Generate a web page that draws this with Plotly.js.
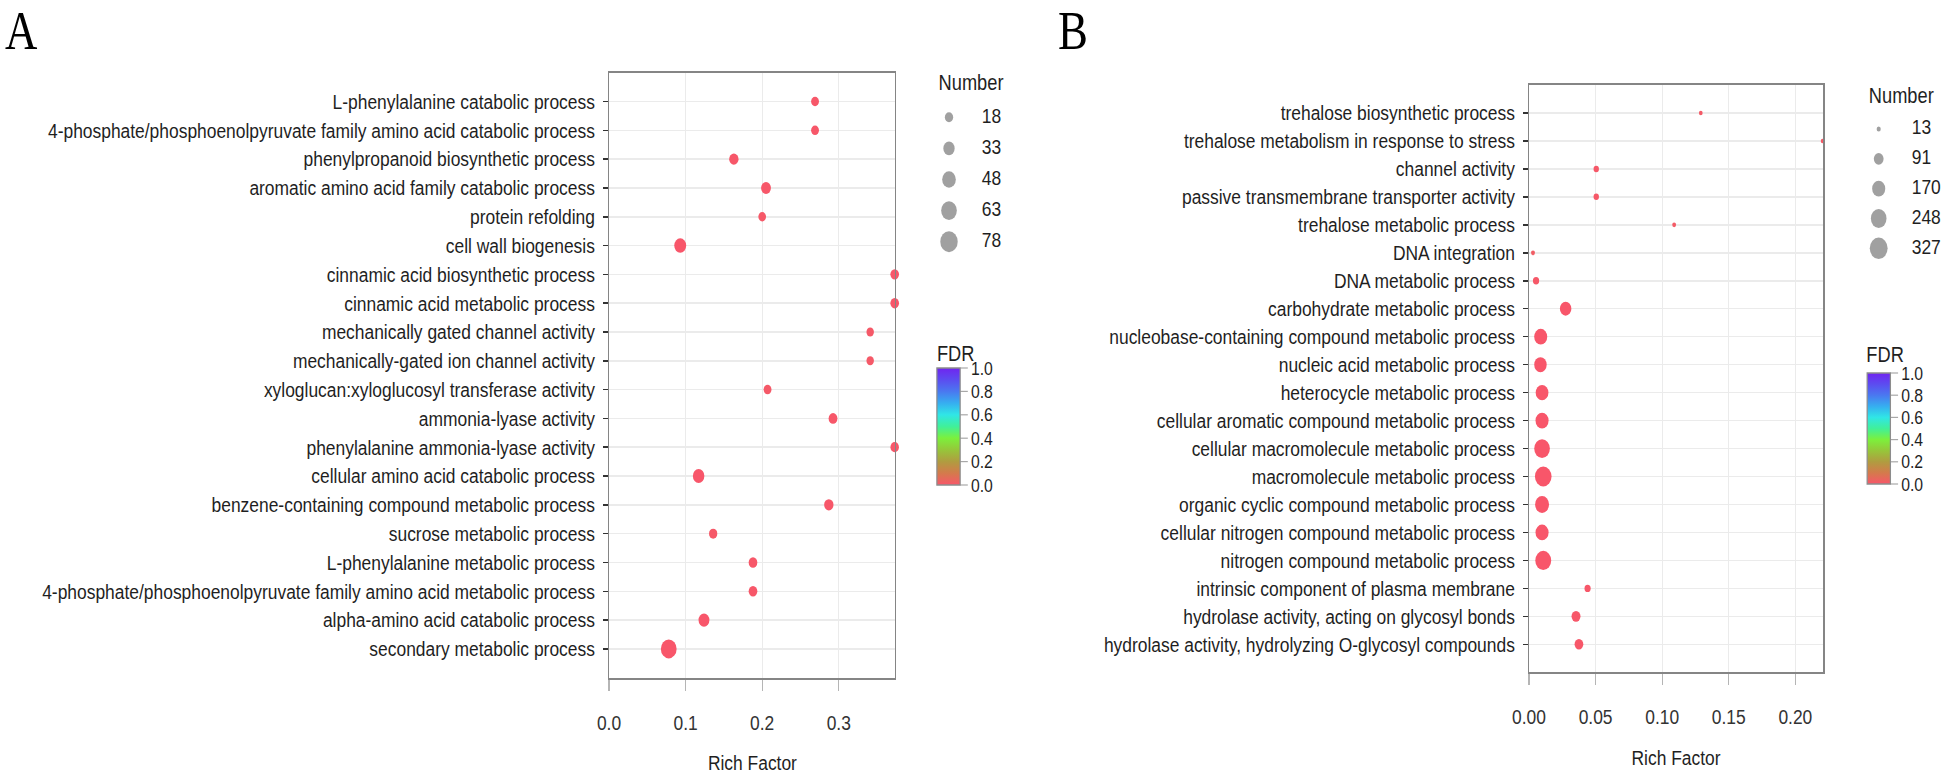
<!DOCTYPE html>
<html>
<head>
<meta charset="utf-8">
<script src="https://cdn.plot.ly/plotly-3.0.1.min.js"></script>
<style>
  html, body { margin: 0; padding: 0; background: #ffffff; }
  #wrap { width: 1946px; height: 775px; overflow: hidden; position: relative; }
  #chart { width: 2345px; height: 775px; transform-origin: 0 0; }
</style>
</head>
<body>
<div id="wrap"><div id="chart"></div></div>
<script>
// ---------- Panel A data ----------
const categoriesA = [
  "L-phenylalanine catabolic process",
  "4-phosphate/phosphoenolpyruvate family amino acid catabolic process",
  "phenylpropanoid biosynthetic process",
  "aromatic amino acid family catabolic process",
  "protein refolding",
  "cell wall biogenesis",
  "cinnamic acid biosynthetic process",
  "cinnamic acid metabolic process",
  "mechanically gated channel activity",
  "mechanically-gated ion channel activity",
  "xyloglucan:xyloglucosyl transferase activity",
  "ammonia-lyase activity",
  "phenylalanine ammonia-lyase activity",
  "cellular amino acid catabolic process",
  "benzene-containing compound metabolic process",
  "sucrose metabolic process",
  "L-phenylalanine metabolic process",
  "4-phosphate/phosphoenolpyruvate family amino acid metabolic process",
  "alpha-amino acid catabolic process",
  "secondary metabolic process"
];
const richFactorA = [0.269, 0.269, 0.163, 0.205, 0.200, 0.093, 0.373, 0.373, 0.341, 0.341,
                     0.207, 0.2925, 0.373, 0.117, 0.287, 0.136, 0.188, 0.188, 0.124, 0.078];
const numberA = [20, 20, 28, 31, 19, 45, 24, 24, 18, 18, 20, 25, 23, 42, 28, 22, 24, 24, 38, 78];
const fdrA = [0.002, 0.002, 0.004, 0.003, 0.006, 0.001, 0.002, 0.002, 0.008, 0.008,
              0.007, 0.004, 0.002, 0.001, 0.003, 0.005, 0.003, 0.003, 0.001, 0.000];
const sizeBreaksA = [18, 33, 48, 63, 78];
const xTicksA = [0.0, 0.1, 0.2, 0.3];

// ---------- Panel B data ----------
const categoriesB = [
  "trehalose biosynthetic process",
  "trehalose metabolism in response to stress",
  "channel activity",
  "passive transmembrane transporter activity",
  "trehalose metabolic process",
  "DNA integration",
  "DNA metabolic process",
  "carbohydrate metabolic process",
  "nucleobase-containing compound metabolic process",
  "nucleic acid metabolic process",
  "heterocycle metabolic process",
  "cellular aromatic compound metabolic process",
  "cellular macromolecule metabolic process",
  "macromolecule metabolic process",
  "organic cyclic compound metabolic process",
  "cellular nitrogen compound metabolic process",
  "nitrogen compound metabolic process",
  "intrinsic component of plasma membrane",
  "hydrolase activity, acting on glycosyl bonds",
  "hydrolase activity, hydrolyzing O-glycosyl compounds"
];
const richFactorB = [0.129, 0.2205, 0.0505, 0.0505, 0.109, 0.003, 0.0053, 0.0275, 0.0088, 0.0086,
                     0.0098, 0.0098, 0.0098, 0.0107, 0.0098, 0.0098, 0.0107, 0.044, 0.0353, 0.0375];
const numberB = [13, 13, 30, 30, 14, 15, 41, 152, 199, 180, 190, 200, 290, 327, 228, 200, 300, 40, 90, 85];
const fdrB = [0.010, 0.012, 0.006, 0.006, 0.015, 0.020, 0.005, 0.001, 0.000, 0.000,
              0.000, 0.000, 0.000, 0.000, 0.000, 0.000, 0.000, 0.004, 0.002, 0.002];
const sizeBreaksB = [13, 91, 170, 248, 327];
const xTicksB = [0.00, 0.05, 0.10, 0.15, 0.20];

const fdrTicks = [0.0, 0.2, 0.4, 0.6, 0.8, 1.0];

// ---------- helpers ----------
const W = 2345, H = 775, SX = 1946 / W;
document.getElementById('chart').style.transform = 'scaleX(' + SX + ')';
const px = v => v / 1946;            // screen x -> paper fraction
const py = v => 1 - v / 775;         // screen y -> paper fraction

function sizeScale(vals, breaks, dmin, dmax) {
  const a = Math.sqrt(Math.min(...breaks)), b = Math.sqrt(Math.max(...breaks));
  return vals.map(n => dmin + (dmax - dmin) * (Math.sqrt(n) - a) / (b - a));
}
const idx = arr => arr.map((_, i) => i);

const FDR_SCALE = [
  [0.0, '#f8566a'], [0.1, '#d47a4c'], [0.2, '#b09c40'], [0.3, '#96c63a'],
  [0.4, '#7cf03c'], [0.5, '#40f09a'], [0.6, '#30e6e6'], [0.7, '#36aef0'],
  [0.8, '#4a78f0'], [0.9, '#5c4cf0'], [1.0, '#7024f0']
];
const POINT_FONT = 'Liberation Sans, Arial, sans-serif';
const TXT = '#1f1f1f';

function colorbar(xs, yTop, yBottom) {
  return {
    x: px(xs), xanchor: 'left', xpad: 0,
    y: py((yTop + yBottom) / 2), yanchor: 'middle', ypad: 0,
    len: yBottom - yTop, lenmode: 'pixels',
    thickness: 28, thicknessmode: 'pixels',
    outlinecolor: '#8c8c8c', outlinewidth: 1.5,
    tickmode: 'array', tickvals: fdrTicks, ticktext: fdrTicks.map(v => v.toFixed(1)),
    ticks: 'outside', ticklen: 9, tickwidth: 1.2, tickcolor: '#a8a8a8',
    tickfont: { family: POINT_FONT, size: 19, color: TXT }
  };
}

const traces = [
  { // Panel A points
    type: 'scatter', mode: 'markers', xaxis: 'x', yaxis: 'y',
    x: richFactorA, y: categoriesA, cliponaxis: false,
    marker: {
      size: sizeScale(numberA, sizeBreaksA, 9, 19),
      color: fdrA, cmin: 0, cmax: 1, colorscale: FDR_SCALE,
      line: { width: 0 }, opacity: 1,
      showscale: true, colorbar: colorbar(937, 368, 485)
    },
    hoverinfo: 'x+y'
  },
  { // Panel B points
    type: 'scatter', mode: 'markers', xaxis: 'x2', yaxis: 'y2',
    x: richFactorB, y: categoriesB, cliponaxis: false,
    marker: {
      size: sizeScale(numberB, sizeBreaksB, 4.5, 20),
      color: fdrB, cmin: 0, cmax: 1, colorscale: FDR_SCALE,
      line: { width: 0 }, opacity: 1,
      showscale: true, colorbar: colorbar(1867, 373, 484)
    },
    hoverinfo: 'x+y'
  },
  { // Size legend A : circles
    type: 'scatter', mode: 'markers', xaxis: 'x3', yaxis: 'y3', cliponaxis: false,
    x: sizeBreaksA.map(() => 0), y: idx(sizeBreaksA),
    marker: { size: sizeScale(sizeBreaksA, sizeBreaksA, 10, 21), color: '#777777', line: { width: 0 } },
    hoverinfo: 'skip'
  },
  { // Size legend A : labels
    type: 'scatter', mode: 'text', xaxis: 'x3', yaxis: 'y3', cliponaxis: false,
    x: sizeBreaksA.map(() => 1), y: idx(sizeBreaksA),
    text: sizeBreaksA.map(String), textposition: 'middle right',
    marker: { size: 1 },
    textfont: { family: POINT_FONT, size: 21, color: TXT }, hoverinfo: 'skip'
  },
  { // Size legend B : circles
    type: 'scatter', mode: 'markers', xaxis: 'x4', yaxis: 'y4', cliponaxis: false,
    x: sizeBreaksB.map(() => 0), y: idx(sizeBreaksB),
    marker: { size: sizeScale(sizeBreaksB, sizeBreaksB, 5, 21.5), color: '#777777', line: { width: 0 } },
    hoverinfo: 'skip'
  },
  { // Size legend B : labels
    type: 'scatter', mode: 'text', xaxis: 'x4', yaxis: 'y4', cliponaxis: false,
    x: sizeBreaksB.map(() => 1), y: idx(sizeBreaksB),
    text: sizeBreaksB.map(String), textposition: 'middle right',
    marker: { size: 1 },
    textfont: { family: POINT_FONT, size: 21, color: TXT }, hoverinfo: 'skip'
  }
];

function xAxis(domain, range, ticks, fmt, anchor) {
  return {
    domain: domain, range: range, anchor: anchor,
    tickmode: 'array', tickvals: ticks, ticktext: ticks.map(v => v.toFixed(fmt)),
    showgrid: true, gridcolor: '#ebebeb', gridwidth: 1.5, zeroline: false,
    showline: true, mirror: true, linecolor: '#858585', linewidth: 1.8,
    ticks: 'outside', ticklen: 11, tickwidth: 1.5, tickcolor: '#b5b5b5',
    ticklabelstandoff: 14,
    tickfont: { family: POINT_FONT, size: 21, color: '#333333' }
  };
}
function yAxis(domain, cats, anchor) {
  return {
    domain: domain, anchor: anchor, type: 'category',
    categoryorder: 'array', categoryarray: cats,
    range: [cats.length, -1],
    showgrid: true, gridcolor: '#ebebeb', gridwidth: 1.5, zeroline: false,
    showline: true, mirror: true, linecolor: '#858585', linewidth: 1.8,
    ticks: 'outside', ticklen: 5, tickwidth: 1.5, tickcolor: '#333333',
    ticklabelstandoff: 6,
    tickfont: { family: POINT_FONT, size: 21, color: TXT }
  };
}
const hidden = (domain, range, anchor) => ({
  domain: domain, range: range, anchor: anchor, visible: false, fixedrange: true
});

const ann = (text, x, y, xanchor, size, family) => ({
  text: text, xref: 'paper', yref: 'paper', x: px(x), y: py(y), xanchor: xanchor, yanchor: 'middle',
  showarrow: false, font: { family: family || POINT_FONT, size: size, color: family ? '#000' : TXT }
});
const SERIF = 'Liberation Serif, Times New Roman, serif';

const layout = {
  width: W, height: H,
  margin: { l: 0, r: 0, t: 0, b: 0, pad: 0 },
  paper_bgcolor: '#ffffff', plot_bgcolor: '#ffffff',
  showlegend: false,
  font: { family: POINT_FONT, color: TXT },
  xaxis: xAxis([px(609), px(895)], [0, 0.3734], xTicksA, 1, 'y'),
  yaxis: yAxis([py(677.7), py(72.7)], categoriesA, 'x'),
  xaxis2: xAxis([px(1529), px(1823.3)], [0, 0.221], xTicksB, 2, 'y2'),
  yaxis2: yAxis([py(672.3), py(85)], categoriesB, 'x2'),
  xaxis3: hidden([px(949), px(981.7)], [0, 1], 'y3'),
  yaxis3: hidden([py(257.25), py(101.75)], [4.5, -0.5], 'x3'),
  xaxis4: hidden([px(1878.7), px(1911.7)], [0, 1], 'y4'),
  yaxis4: hidden([py(263.2), py(114.1)], [4.5, -0.5], 'x4'),
  annotations: [
    ann('A', 3, 31, 'left', 54, SERIF),
    ann('B', 1056, 31, 'left', 54, SERIF),
    ann('Rich Factor', 752, 762, 'center', 21),
    ann('Rich Factor', 1676, 757.3, 'center', 21),
    ann('Number', 937, 83, 'left', 22),
    ann('Number', 1867, 95.5, 'left', 22),
    ann('FDR', 935, 353, 'left', 22),
    ann('FDR', 1865, 355, 'left', 22)
  ]
};

Plotly.newPlot('chart', traces, layout, { displayModeBar: false, staticPlot: true });
</script>
</body>
</html>
